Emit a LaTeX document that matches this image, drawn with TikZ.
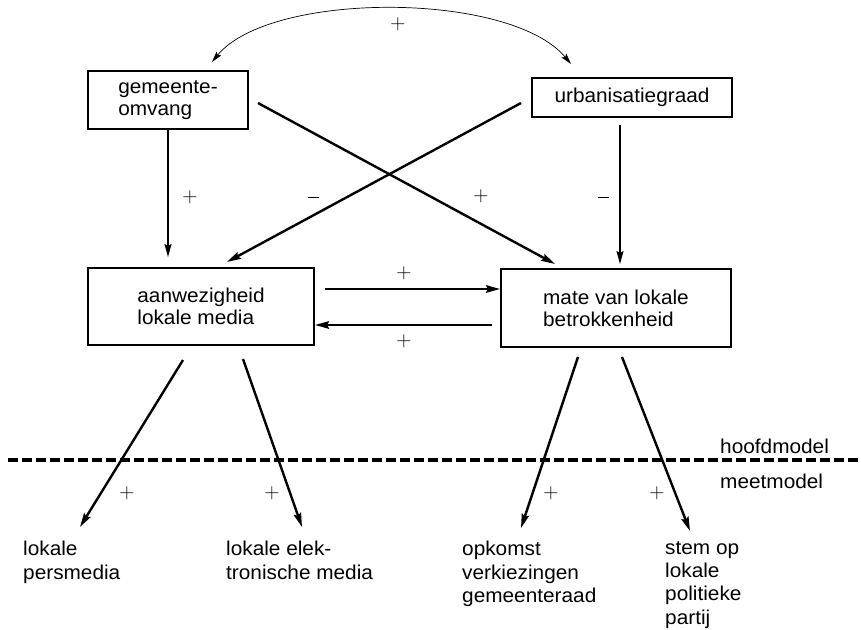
\documentclass[tikz,border=0pt]{standalone}
\usepackage{fontspec}
\setsansfont{Liberation Sans}[FakeStretch=1.04]
\usetikzlibrary{arrows.meta,calc}

\tikzset{
  box/.style={draw, line width=2pt, inner sep=0pt, align=left,
    font=\sffamily\fontsize{20}{22}\selectfont},
  lbl/.style={inner sep=0pt, align=left, anchor=north west,
    font=\sffamily\fontsize{20}{23.3}\selectfont},
  sgn/.style={inner sep=0pt, font=\rmfamily\fontsize{21}{24}\selectfont},
  arr/.style={line width=2.4pt, -{Stealth[length=14pt,width=7.5pt,inset=2pt]}},
  arrthin/.style={line width=1.5pt, -{Stealth[length=13pt,width=7pt,inset=2pt]}},
  dashline/.style={line width=3.5pt, dash pattern=on 10pt off 4pt}
}
\newcommand{\minsign}{\rule{11pt}{0.9pt}}

\begin{document}
\begin{tikzpicture}[x=1pt,y=-1pt]
  \useasboundingbox (0,0) rectangle (861,629);

  % boxes of the main model
  \node[box, minimum width=160pt, minimum height=58pt] (gemomv) at (168,100) {gemeente-\\omvang};
  \node[box, minimum width=200pt, minimum height=39pt] (urbgr) at (632,97.5) {urbanisatiegraad};
  \node[box, minimum width=226pt, minimum height=77pt] (lokmed) at (201,306.5) {aanwezigheid\\lokale media};
  \node[box, minimum width=230pt, minimum height=78pt] (betrok) at (616,308) {mate van lokale\\betrokkenheid};

  % indicators
  \node[lbl] (persmed) at (23,541) {lokale\\persmedia};
  \node[lbl] (elekmed) at (226,541) {lokale elek-\\tronische media};
  \node[lbl] (opkomst) at (462,541) {opkomst\\verkiezingen\\gemeenteraad};
  \node[lbl] (stemop) at (665,541) {stem op\\lokale\\politieke\\partij};

  \node[lbl, anchor=base west] (hoofd) at (720,453) {hoofdmodel};
  \node[lbl, anchor=base west] (meet) at (720,488) {meetmodel};

  % correlation on top
  \draw[line width=0.7pt, {Stealth[length=11pt,width=6pt,inset=2pt]}-{Stealth[length=11pt,width=6pt,inset=2pt]}]
    ($(gemomv.north)+(44,-8)$) .. controls +(58,-71) and +(-61,-73) .. ($(urbgr.north)+(-61,-13)$);

  % paths
  \draw[arrthin, shorten >=10pt] (gemomv.south) -- (gemomv.south |- lokmed.north);
  \draw[arrthin, shorten <=7pt, shorten >=4pt] ([xshift=-12pt]urbgr.south) -- ([xshift=-12pt]urbgr.south |- betrok.north);
  \draw[arr] ($(gemomv.east)+(9,3)$) -- ($(betrok.north west)+(55,-4)$);
  \draw[arr] ($(urbgr.west)+(-10,5.5)$) -- ($(lokmed.north east)+(-88,-5)$);
  \draw[arr] ($(lokmed.east)+(10,-17.5)$) -- ($(betrok.west)+(0,-19)$);
  \draw[arr] ($(betrok.west)+(-8,17)$) -- ($(lokmed.east)+(0,18.5)$);

  % measurement
  \draw[arr] ($(lokmed.south)+(-18,14)$) -- ($(persmed.north west)+(57,-14)$);
  \draw[arr] ($(lokmed.south)+(42,13)$) -- ($(elekmed.north west)+(76,-14)$);
  \draw[arr] ($(betrok.south)+(-38,9)$) -- ($(opkomst.north west)+(59,-13)$);
  \draw[arr] ($(betrok.south)+(6,9)$) -- ($(stemop.north west)+(25,-10)$);

  \draw[dashline] (8,460) -- (861,460);

  % signs
  \node[sgn] (s1) at (398,24) {+};
  \node[sgn] (s2) at (190,197) {+};
  \node[sgn] (s3) at (313,197) {\minsign};
  \node[sgn] (s4) at (481,196) {+};
  \node[sgn] (s5) at (603,197) {\minsign};
  \node[sgn] (s6) at (404,273) {+};
  \node[sgn] (s7) at (404,341) {+};
  \node[sgn] (s8) at (127,493) {+};
  \node[sgn] (s9) at (272,493) {+};
  \node[sgn] (s10) at (551,493) {+};
  \node[sgn] (s11) at (657,493) {+};
\end{tikzpicture}
\end{document}
